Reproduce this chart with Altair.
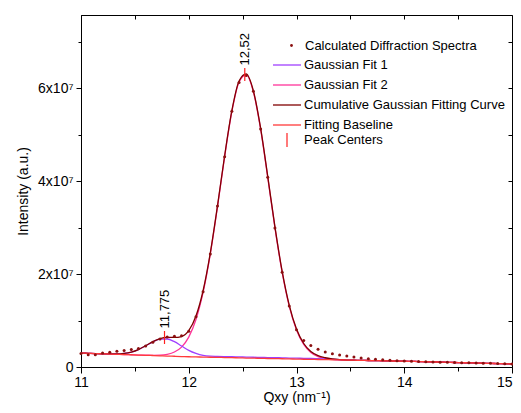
import altair as alt
import pandas as pd

# Qxy grid (nm^-1) and intensities in units of 1e7
qxy = [11.0, 11.067, 11.133, 11.2, 11.267, 11.333, 11.4, 11.467, 11.533, 11.6,
       11.667, 11.733, 11.8, 11.867, 11.933, 12.0, 12.067, 12.133, 12.2, 12.267,
       12.333, 12.4, 12.467, 12.533, 12.6, 12.667, 12.733, 12.8, 12.867, 12.933,
       13.0, 13.067, 13.133, 13.2, 13.267, 13.333, 13.4, 13.467, 13.533, 13.6,
       13.667, 13.733, 13.8, 13.867, 13.933, 14.0, 14.067, 14.133, 14.2, 14.267,
       14.333, 14.4, 14.467, 14.533, 14.6, 14.667, 14.733, 14.8, 14.867, 14.933, 15.0]

spectra = [0.29, 0.265, 0.265, 0.30, 0.315, 0.34, 0.355, 0.375, 0.40, 0.45,
           0.53, 0.60, 0.645, 0.66, 0.67, 0.77, 1.08, 1.62, 2.43, 3.46,
           4.52, 5.50, 6.12, 6.27, 5.93, 5.12, 4.08, 2.99, 2.04, 1.31,
           0.80, 0.57, 0.46, 0.38, 0.32, 0.285, 0.26, 0.235, 0.215, 0.195,
           0.18, 0.165, 0.155, 0.145, 0.137, 0.128, 0.122, 0.117, 0.115, 0.110,
           0.104, 0.102, 0.098, 0.092, 0.090, 0.085, 0.080, 0.078, 0.074, 0.070, 0.066]

baseline = [0.300, 0.295, 0.289, 0.284, 0.279, 0.273, 0.268, 0.263, 0.257, 0.252,
            0.247, 0.241, 0.236, 0.231, 0.225, 0.220, 0.217, 0.213, 0.210, 0.207,
            0.203, 0.200, 0.197, 0.193, 0.190, 0.187, 0.183, 0.180, 0.177, 0.173,
            0.170, 0.167, 0.164, 0.161, 0.158, 0.155, 0.152, 0.149, 0.146, 0.143,
            0.140, 0.137, 0.134, 0.131, 0.128, 0.125, 0.121, 0.117, 0.113, 0.109,
            0.105, 0.101, 0.097, 0.093, 0.089, 0.085, 0.081, 0.077, 0.073, 0.069, 0.065]

fit1 = [0.300, 0.295, 0.289, 0.285, 0.281, 0.281, 0.292, 0.321, 0.375, 0.456,
        0.542, 0.598, 0.602, 0.545, 0.452, 0.358, 0.292, 0.250, 0.233, 0.228,
        0.223, 0.220, 0.217, 0.213, 0.210, 0.207, 0.203, 0.200, 0.197, 0.193,
        0.190, 0.187, 0.184, 0.180, 0.174, 0.166, 0.157, 0.149, 0.146, 0.143,
        0.140, 0.137, 0.134, 0.131, 0.128, 0.125, 0.121, 0.117, 0.113, 0.109,
        0.105, 0.101, 0.097, 0.093, 0.089, 0.085, 0.081, 0.077, 0.073, 0.069, 0.065]

fit2 = [0.300, 0.295, 0.289, 0.284, 0.279, 0.273, 0.268, 0.263, 0.257, 0.253,
        0.252, 0.255, 0.273, 0.322, 0.428, 0.642, 1.020, 1.603, 2.429, 3.449,
        4.522, 5.491, 6.130, 6.283, 5.916, 5.115, 4.080, 2.992, 2.034, 1.304,
        0.797, 0.485, 0.313, 0.224, 0.183, 0.164, 0.155, 0.150, 0.146, 0.143,
        0.140, 0.137, 0.134, 0.131, 0.128, 0.125, 0.121, 0.117, 0.113, 0.109,
        0.105, 0.101, 0.097, 0.093, 0.089, 0.085, 0.081, 0.077, 0.073, 0.069, 0.065]

cumulative = [0.300, 0.295, 0.289, 0.285, 0.281, 0.281, 0.292, 0.321, 0.375, 0.457,
              0.547, 0.612, 0.639, 0.635, 0.655, 0.780, 1.095, 1.640, 2.452, 3.470,
              4.543, 5.511, 6.150, 6.303, 5.936, 5.135, 4.100, 3.012, 2.054, 1.324,
              0.817, 0.505, 0.333, 0.243, 0.199, 0.175, 0.160, 0.150, 0.146, 0.143,
              0.140, 0.137, 0.134, 0.131, 0.128, 0.125, 0.121, 0.117, 0.113, 0.109,
              0.105, 0.101, 0.097, 0.093, 0.089, 0.085, 0.081, 0.077, 0.073, 0.069, 0.065]

peak_x = [11.775, 12.52]
peak_y = [0.635, 6.29]
peak_labels = ["11,775", "12,52"]

x_ticks = [11, 11.5, 12, 12.5, 13, 13.5, 14, 14.5, 15]
y_ticks = [0, 1, 2, 3, 4, 5, 6, 7]

names = ["Calculated Diffraction Spectra", "Gaussian Fit 1", "Gaussian Fit 2",
         "Cumulative Gaussian Fitting Curve", "Fitting Baseline", "Peak Centers"]
colors = ["#8b1010", "#a040ff", "#ff3399", "#800000", "#ff3a3a", "#ff2020"]
widths = [0, 1.3, 1.3, 2, 1.2, 1.2]

FONT = "Liberation Sans"

df = pd.DataFrame({"qxy": qxy, "spectra": spectra})
peaks = pd.DataFrame({"qxy": peak_x, "y": peak_y, "label": peak_labels})

# fitted curves in long form, listed in drawing order: fit 2, fit 1, cumulative, baseline
curve_values = {names[1]: fit1, names[2]: fit2, names[3]: cumulative, names[4]: baseline}
draw_order = [names[2], names[1], names[3], names[4]]
lines_df = pd.concat(
    [pd.DataFrame({"qxy": qxy, "value": curve_values[n], "series": n}) for n in draw_order],
    ignore_index=True,
)

x_scale = alt.Scale(domain=[11, 15], nice=False)
y_scale = alt.Scale(domain=[0, 7.57], nice=False)

x_axis = alt.Axis(
    title="Qxy (nm⁻¹)", values=x_ticks, grid=False, labelFlush=False,
    labelExpr="datum.value % 1 === 0 ? format(datum.value, 'd') : ''",
    labelAlign={"condition": {"test": "datum.value === 15", "value": "right"}, "value": "center"},
    tickSize={"condition": {"test": "datum.value % 1 === 0", "value": 6}, "value": 4},
    domainColor="black", tickColor="black", labelPadding=2, titlePadding=1, titleFontSize=14,
)
y_axis = alt.Axis(
    title="Intensity (a.u.)", values=y_ticks, grid=False,
    labelExpr="datum.value % 2 === 0 ? (datum.value === 0 ? '0' : datum.value + 'x10⁷') : ''",
    tickSize={"condition": {"test": "datum.value % 2 === 0", "value": 5}, "value": 3},
    domainColor="black", tickColor="black", labelPadding=3, titlePadding=7,
)
top_axis = alt.Axis(orient="top", values=x_ticks, labels=False, title=None, grid=False,
                    domain=False, tickSize=4, offset=-4, tickColor="black")
right_axis = alt.Axis(orient="right", values=y_ticks, labels=False, title=None, grid=False,
                      domain=False, tickSize=4, offset=-4, tickColor="black")

# three stacked legends: dot, line segments, vertical tick
dot_legend = alt.Legend(title=None, orient="none", legendX=204, legendY=24,
                        symbolType="circle", symbolSize=8, labelOffset=7)
line_legend = alt.Legend(title=None, orient="none", legendX=198, legendY=42,
                         symbolType="M-2,0L2,0", symbolSize=196, symbolStrokeWidth=1.5,
                         labelOffset=9, rowPadding=5)
peak_legend = alt.Legend(title=None, orient="none", legendX=198, legendY=117,
                         symbolSize=196, symbolStrokeColor=colors[5], symbolStrokeWidth=1.2,
                         labelOffset=9)

x = alt.X("qxy:Q", scale=x_scale, axis=x_axis)

lines = alt.Chart(lines_df).mark_line(interpolate="monotone").encode(
    x=x,
    y=alt.Y("value:Q", scale=y_scale, axis=y_axis),
    stroke=alt.Stroke("series:N", scale=alt.Scale(domain=names[1:5], range=colors[1:5]),
                      legend=line_legend),
    strokeWidth=alt.StrokeWidth("series:N", scale=alt.Scale(domain=names[1:5], range=widths[1:5]),
                                legend=None),
)

dots = alt.Chart(df).mark_circle(size=9, opacity=1).transform_calculate(
    series=f"'{names[0]}'"
).encode(
    x=x,
    y=alt.Y("spectra:Q", scale=y_scale, axis=y_axis),
    color=alt.Color("series:N", scale=alt.Scale(domain=[names[0]], range=[colors[0]]),
                    legend=dot_legend),
)

peak_marks = alt.Chart(peaks).transform_calculate(
    series=f"'{names[5]}'"
).mark_point(filled=False, color=colors[5], strokeWidth=widths[5], size=169, opacity=1).encode(
    x=x,
    y=alt.Y("y:Q", scale=y_scale, axis=y_axis),
    shape=alt.Shape("series:N", scale=alt.Scale(domain=[names[5]], range=["M0,-1L0,1"]),
                    legend=peak_legend),
)

peak_text = alt.Chart(peaks).mark_text(
    angle=270, align="left", baseline="middle", dx=9, font=FONT, fontSize=13, color="black"
).encode(x=x, y=alt.Y("y:Q", scale=y_scale, axis=y_axis), text="label:N")

main = alt.layer(lines, dots, peak_marks, peak_text)

frame = alt.Chart(df).mark_point(opacity=0).encode(
    x=alt.X("qxy:Q", scale=x_scale, axis=top_axis),
    y=alt.Y("spectra:Q", scale=y_scale, axis=right_axis),
)

chart = alt.layer(main, frame).resolve_axis(
    x="independent", y="independent"
).properties(
    width=431, height=352, autosize="none",
    padding={"left": 73, "top": 7, "right": 1, "bottom": 38},
).configure_view(
    stroke="black", strokeWidth=1
).configure_axis(
    labelFont=FONT, labelFontSize=14, labelColor="black",
    titleFont=FONT, titleFontSize=14, titleColor="black", titleFontWeight="normal",
).configure_legend(
    labelFont=FONT, labelFontSize=13, labelColor="black", labelLimit=300,
)

chart.save("out.html", embed_options={"renderer": "svg", "actions": False})
